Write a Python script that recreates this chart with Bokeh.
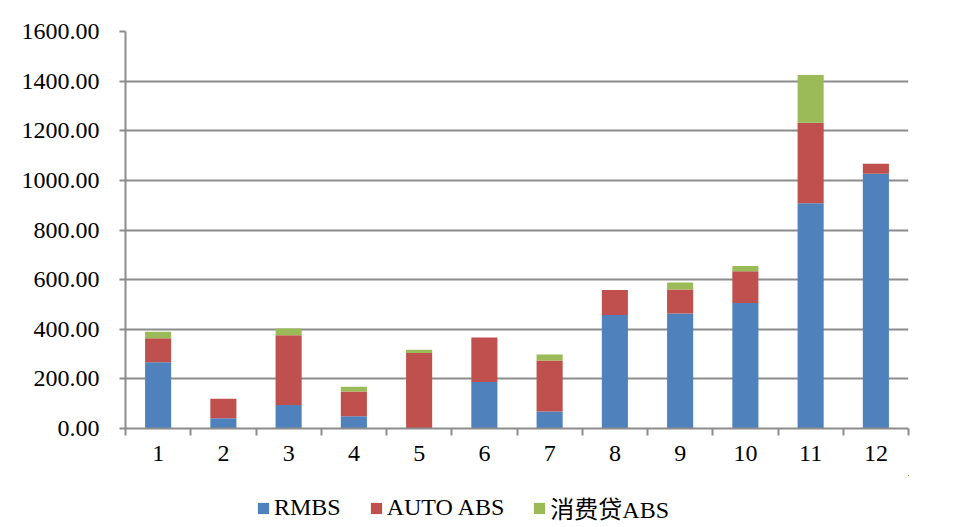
from bokeh.plotting import figure
from bokeh.layouts import column
from bokeh.models import ColumnDataSource, FixedTicker, NumeralTickFormatter, Legend, LegendItem, Range1d
from bokeh.embed import file_html
from bokeh.resources import INLINE

months = [1, 2, 3, 4, 5, 6, 7, 8, 9, 10, 11, 12]
rmbs = [267, 41, 95, 49, 0, 187, 69, 457, 463, 506, 908, 1027]
auto_abs = [97, 79, 281, 100, 304, 180, 205, 101, 97, 128, 324, 40]
consumer_abs = [26, 0, 27, 19, 13, 0, 24, 0, 28, 21, 193, 0]
series_names = ["RMBS", "AUTO ABS", "消费贷ABS"]
colors = ["#4F81BD", "#C0504D", "#9BBB59"]
y_ticks = [0, 200, 400, 600, 800, 1000, 1200, 1400, 1600]

FONT = "'Liberation Serif', 'Times New Roman', 'Noto Sans CJK SC', serif"

source = ColumnDataSource(data=dict(x=months, rmbs=rmbs, auto=auto_abs, cons=consumer_abs))

p = figure(width=964, height=475, output_backend="svg", toolbar_location=None,
           x_range=Range1d(0.5, 12.5), y_range=Range1d(0, 1600),
           min_border_left=125, min_border_right=56, min_border_top=31, min_border_bottom=47)

renderers = p.vbar_stack(["rmbs", "auto", "cons"], x="x", width=0.4, source=source,
                         color=colors, line_color=None)

p.outline_line_color = None
p.background_fill_color = "white"
p.border_fill_color = "white"

# x axis
p.xaxis.ticker = FixedTicker(ticks=months, minor_ticks=[m + 0.5 for m in [0] + months])
p.xaxis.major_tick_line_color = None
p.xaxis.minor_tick_out = 7
p.xaxis.minor_tick_in = 0
p.xaxis.minor_tick_line_color = "#8c8c8c"
p.xaxis.minor_tick_line_width = 2
p.xaxis.axis_line_color = "#8c8c8c"
p.xaxis.axis_line_width = 2
p.xaxis.major_label_text_font = FONT
p.xaxis.major_label_text_font_size = "24px"
p.xaxis.major_label_text_color = "black"
p.xaxis.major_label_standoff = 10
p.xgrid.grid_line_color = None

# y axis
p.yaxis.ticker = FixedTicker(ticks=y_ticks)
p.yaxis.formatter = NumeralTickFormatter(format="0.00")
p.yaxis.minor_tick_line_color = None
p.yaxis.major_tick_out = 6
p.yaxis.major_tick_in = 0
p.yaxis.major_tick_line_color = "#8c8c8c"
p.yaxis.major_tick_line_width = 2
p.yaxis.axis_line_color = "#8c8c8c"
p.yaxis.axis_line_width = 2
p.yaxis.major_label_text_font = FONT
p.yaxis.major_label_text_font_size = "24px"
p.yaxis.major_label_text_color = "black"
p.yaxis.major_label_standoff = 20
p.ygrid.grid_line_color = "#8c8c8c"
p.ygrid.grid_line_width = 2

# legend strip: same stacked series as legend proxies, kept out of its (empty) view
p2 = figure(width=964, height=52, output_backend="svg", toolbar_location=None,
            x_range=Range1d(-3, -2), y_range=Range1d(-3, -2),
            x_axis_type=None, y_axis_type=None,
            min_border_left=0, min_border_right=0, min_border_top=0, min_border_bottom=0)
p2.outline_line_color = None
p2.xgrid.grid_line_color = None
p2.ygrid.grid_line_color = None
p2.background_fill_alpha = 0
proxies = p2.vbar_stack(["rmbs", "auto", "cons"], x="x", width=0.4, source=source,
                        color=colors, line_color=None)

legend = Legend(items=[LegendItem(label=n, renderers=[r]) for n, r in zip(series_names, proxies)],
                orientation="horizontal", location=(131, 2),
                border_line_color=None, background_fill_alpha=0,
                label_text_font=FONT, label_text_font_size="24px", label_text_color="black",
                glyph_width=14, glyph_height=14, label_standoff=4, spacing=28,
                padding=4, margin=0)
p2.add_layout(legend, "center")

open("out.html", "w").write(file_html(column(p, p2, spacing=0), INLINE))
